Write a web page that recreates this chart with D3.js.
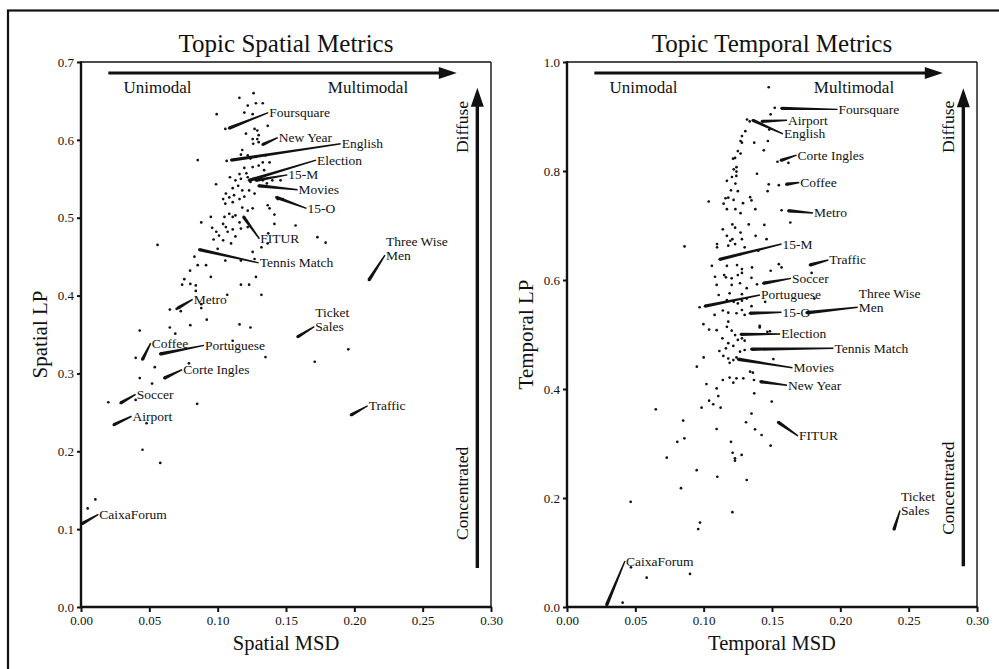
<!DOCTYPE html>
<html><head><meta charset="utf-8">
<script src="https://cdn.jsdelivr.net/npm/d3@7"></script>
<style>body{margin:0;background:#fff}svg{display:block}text{font-family:"Liberation Serif","Times New Roman",serif;fill:#111}</style>
</head><body><svg id="c" width="999" height="669"></svg>
<script>
// ---------- DATA ----------
const xTicks = [0, 0.05, 0.10, 0.15, 0.20, 0.25, 0.30];
const spatialYTicks = [0, 0.1, 0.2, 0.3, 0.4, 0.5, 0.6, 0.7];
const temporalYTicks = [0, 0.2, 0.4, 0.6, 0.8, 1.0];

// unlabeled topics: [MSD, LP]
const spatialPoints = [
[.1263,.660],[.1159,.654],[.122,.644],[.128,.647],[.133,.647],[.0993,.633],[.1195,.635],[.1256,.633],[.1366,.618],[.1056,.614],
[.1207,.608],[.127,.614],[.129,.612],[.1256,.601],[.129,.601],[.130,.606],[.126,.595],[.130,.597],[.0854,.574],[.1066,.573],
[.118,.587],[.117,.581],[.122,.580],[.124,.576],[.128,.578],[.135,.580],[.133,.571],[.138,.571],[.1195,.564],[.121,.557],
[.1256,.565],[.130,.567],[.134,.561],[.116,.556],[.117,.550],[.122,.552],[.124,.546],[.133,.548],[.136,.544],[.140,.548],
[.146,.548],[.109,.552],[.113,.548],[.0988,.543],[.115,.541],[.111,.538],[.118,.535],[.123,.535],[.127,.531],[.106,.531],
[.1085,.526],[.112,.529],[.104,.524],[.116,.524],[.1195,.527],[.1056,.518],[.111,.520],[.144,.524],[.1476,.524],[.1366,.516],
[.1415,.504],[.138,.512],[.118,.513],[.122,.509],[.1256,.512],[.1085,.505],[.111,.501],[.113,.503],[.105,.501],[.116,.494],
[.095,.501],[.088,.494],[.096,.487],[.099,.482],[.104,.492],[.106,.488],[.1073,.482],[.111,.485],[.101,.477],[.117,.486],
[.122,.488],[.113,.476],[.1098,.467],[.104,.471],[.097,.472],[.100,.460],[.1056,.445],[.117,.445],[.1256,.456],[.127,.447],
[.132,.462],[.1366,.467],[.137,.480],[.1415,.492],[.157,.490],[.056,.465],[.083,.450],[.0915,.439],[.0854,.439],[.0798,.432],
[.0756,.421],[.095,.424],[.074,.414],[.080,.415],[.084,.413],[.084,.406],[.128,.424],[.117,.414],[.123,.414],[.132,.401],
[.107,.401],[.065,.382],[.070,.383],[.073,.380],[.088,.389],[.088,.384],[.092,.369],[.065,.359],[.080,.362],[.069,.351],
[.116,.363],[.124,.359],[.043,.355],[.040,.320],[.079,.313],[.111,.342],[.135,.321],[.054,.308],[.043,.294],[.052,.287],
[.020,.263],[.040,.266],[.085,.261],[.048,.236],[.045,.202],[.058,.185],[.171,.315],[.1956,.331],[.173,.475],[.179,.468],
[.0049,.1266],[.0105,.1382]
];
const temporalPoints = [
[.1476,.9537],[.152,.916],[.149,.904],[.1317,.8945],[.1337,.891],[.148,.876],[.1305,.873],[.128,.864],[.127,.855],[.128,.852],
[.137,.852],[.147,.855],[.144,.838],[.125,.8366],[.123,.824],[.1215,.8226],[.127,.832],[.154,.817],[.162,.815],[.124,.807],
[.122,.803],[.124,.799],[.1239,.791],[.139,.795],[.1207,.789],[.117,.782],[.1232,.777],[.1476,.7756],[.1468,.763],[.155,.774],
[.120,.7646],[.125,.763],[.1037,.744],[.116,.75],[.118,.751],[.1219,.747],[.1146,.740],[.117,.730],[.1232,.730],[.127,.7226],
[.1288,.741],[.134,.752],[.135,.746],[.1378,.730],[.157,.728],[.1634,.7055],[.1444,.701],[.133,.702],[.121,.702],[.123,.696],
[.127,.687],[.114,.693],[.117,.681],[.1195,.672],[.121,.675],[.128,.675],[.138,.681],[.146,.675],[.1098,.666],[.1098,.660],
[.118,.663],[.123,.666],[.130,.660],[.127,.6476],[.140,.6537],[.086,.6616],[.106,.626],[.117,.626],[.1244,.6274],[.128,.620],
[.1354,.623],[.149,.617],[.155,.629],[.157,.623],
[.1083,.606],[.115,.609],[.1163,.605],[.1205,.603],[.125,.609],[.128,.613],[.135,.604],[.139,.592],[.1095,.591],[.1205,.591],
[.1266,.594],[.1315,.585],[.119,.5755],[.128,.574],[.111,.5725],[.117,.563],[.122,.560],[.125,.557],[.128,.562],[.1315,.566],
[.097,.550],[.108,.536],[.114,.544],[.118,.540],[.124,.539],[.128,.545],[.130,.536],[.135,.552],[.141,.516],[.1466,.505],
[.1485,.506],[.141,.513],[.0998,.519],[.104,.509],[.1095,.508],[.118,.5235],[.117,.514],[.1205,.507],[.123,.499],[.125,.490],
[.128,.493],[.130,.4887],[.1137,.493],[.118,.484],[.1217,.479],[.1163,.4746],[.1266,.4685],[.130,.4716],[.1115,.4697],[.1144,.4606],
[.118,.456],[.1217,.453],[.119,.448],[.124,.458],[.100,.458],[.095,.441],[.151,.455],[.102,.409],[.1095,.401],[.114,.4165],
[.119,.421],[.1217,.4116],[.124,.4196],[.129,.4196],[.134,.4318],[.136,.430],[.137,.392],[.1107,.387],[.104,.3786],[.107,.372],
[.0985,.3657],[.1124,.3657],[.065,.3627],[.1498,.377],[.135,.355],[.131,.339],[.1095,.3266],[.1376,.326],[.1424,.3156],[.149,.296],
[.085,.342],[.0807,.303],[.0859,.3095],[.073,.274],[.120,.303],[.1212,.283],[.1229,.2728],[.1229,.2685],[.1278,.279],[.0949,.251],
[.110,.239],[.1315,.233],[.0834,.218],[.179,.613],[.181,.566],[.145,.560],[.1368,.4165],
[.0466,.193],[.0973,.155],[.096,.143],[.121,.174],[.0468,.0728],[.0583,.0538],[.090,.0606],[.0407,.0079]
];

// labeled topics
const spatialTopics = ["Foursquare","New Year","English","Election","15-M","Movies","15-O","FITUR","Tennis Match","Three Wise Men","Metro","Ticket Sales","Coffee","Portuguese","Corte Ingles","Traffic","Soccer","Airport","CaixaForum"];
const spatialMSD = [.1085,.133,.110,.123,.128,.130,.143,.119,.0866,.2107,.071,.1585,.045,.058,.061,.1976,.029,.024,.0007];
const spatialLP  = [.615,.594,.574,.548,.548,.541,.526,.501,.459,.420,.384,.347,.318,.325,.294,.2466,.262,.234,.107];
const spatialLabelAt = [[.137,.635],[.144,.603],[.190,.595],[.172,.574],[.151,.555],[.1585,.536],[.165,.512],[.1305,.473],[.130,.442],[.2224,.452],[.0817,.395],[.1707,.360],[.051,.339],[.090,.336],[.074,.305],[.2098,.2585],[.040,.273],[.037,.245],[.0127,.119]];

const temporalTopics = ["Foursquare","Airport","English","Corte Ingles","Coffee","Metro","15-M","Traffic","Soccer","Portuguese","Three Wise Men","15-O","Election","Tennis Match","Movies","New Year","FITUR","Ticket Sales","CaixaForum"];
const temporalMSD = [.157,.1427,.136,.1566,.1605,.162,.1117,.1778,.1437,.101,.1754,.1339,.1273,.135,.1253,.1417,.1546,.2393,.029];
const temporalLP  = [.915,.891,.893,.8195,.7756,.727,.638,.6275,.594,.552,.540,.539,.5003,.473,.4545,.4134,.339,.1426,.0037];
const temporalLabelAt = [[.198,.913],[.161,.893],[.158,.868],[.168,.829],[.170,.779],[.180,.723],[.157,.666],[.1912,.6367],[.1639,.603],[.1412,.5725],[.2127,.55],[.157,.5407],[.156,.501],[.195,.4747],[.165,.439],[.161,.407],[.169,.314],[.2437,.177],[.0424,.0844]];

// ---------- DRAW ----------
const svg = d3.select("#c");
svg.append("rect").attr("x",8).attr("y",10.5).attr("width",1200).attr("height",1000)
  .attr("fill","none").attr("stroke","#111").attr("stroke-width",2.2);

function panel(o){
  const x = d3.scaleLinear().domain([0,0.3]).range([o.x0,o.x1]);
  const y = d3.scaleLinear().domain([0,o.ymax]).range([607,62]);
  const g = svg.append("g");
  g.append("text").attr("x",(o.x0+o.x1)/2).attr("y",52).attr("text-anchor","middle")
    .style("font-size","25px").text(o.title);
  g.append("line").attr("x1",x(0)).attr("x2",x(0.3)).attr("y1",y(o.ymax)).attr("y2",y(o.ymax)).attr("stroke","#111").attr("stroke-width",1.4);
  g.append("line").attr("x1",x(0.3)).attr("x2",x(0.3)).attr("y1",y(0)).attr("y2",y(o.ymax)).attr("stroke","#111").attr("stroke-width",1.4);
  const ax = g.append("g").attr("transform",`translate(0,${y(0)})`)
    .call(d3.axisBottom(x).tickValues(xTicks).tickFormat(d3.format(".2f")).tickSize(5).tickPadding(4).tickSizeOuter(0));
  const ay = g.append("g").attr("transform",`translate(${x(0)},0)`)
    .call(d3.axisLeft(y).tickValues(o.yTicks).tickFormat(d3.format(".1f")).tickSize(4).tickPadding(3).tickSizeOuter(0));
  [ax,ay].forEach(a=>{
    a.select(".domain").remove();
    a.selectAll(".tick line").attr("stroke","#111").attr("stroke-width",2);
    a.selectAll(".tick text").style("font-family",'"Liberation Serif",serif').style("font-size","13px").attr("fill","#222");
  });
  g.append("line").attr("x1",x(0)).attr("x2",x(0.3)+0.7).attr("y1",y(0)).attr("y2",y(0)).attr("stroke","#111").attr("stroke-width",2.4);
  g.append("line").attr("x1",x(0)).attr("x2",x(0)).attr("y1",y(0)+1).attr("y2",y(o.ymax)-0.7).attr("stroke","#111").attr("stroke-width",2.4);
  g.append("text").attr("x",(o.x0+o.x1)/2).attr("y",650).attr("text-anchor","middle").style("font-size","20.5px").text(o.xlabel);
  g.append("text").attr("transform",`translate(${o.x0-34},${(607+62)/2}) rotate(-90)`).attr("text-anchor","middle")
    .style("font-size","21px").text(o.ylabel);
  const hy = y(o.hArrowY), hx0 = x(0.02), hx1 = x(0.275);
  g.append("line").attr("x1",hx0).attr("x2",hx1-14).attr("y1",hy).attr("y2",hy).attr("stroke","#111").attr("stroke-width",3);
  g.append("path").attr("d",`M${hx1},${hy} L${hx1-18},${hy-6} L${hx1-18},${hy+6} Z`).attr("fill","#111");
  g.append("text").attr("x",x(0.056)).attr("y",y(o.modeY)).attr("text-anchor","middle").style("font-size","17px").text("Unimodal");
  g.append("text").attr("x",x(0.21)).attr("y",y(o.modeY)).attr("text-anchor","middle").style("font-size","17px").text("Multimodal");
  const vx = x(0.29), vy0 = y(o.vArrow[0]), vy1 = y(o.vArrow[1]);
  g.append("line").attr("x1",vx).attr("x2",vx).attr("y1",vy0).attr("y2",vy1+14).attr("stroke","#111").attr("stroke-width",3.4);
  g.append("path").attr("d",`M${vx},${vy1} L${vx-6.5},${vy1+19} L${vx+6.5},${vy1+19} Z`).attr("fill","#111");
  g.append("text").attr("transform",`translate(${vx-9},${y(o.diffuseY)}) rotate(-90)`).attr("text-anchor","middle").style("font-size","17.5px").text("Diffuse");
  g.append("text").attr("transform",`translate(${vx-9},${y(o.concY)}) rotate(-90)`).attr("text-anchor","middle").style("font-size","17.5px").text("Concentrated");
  g.selectAll("circle.p").data(o.points).join("circle").attr("class","p")
    .attr("cx",d=>x(d[0])).attr("cy",d=>y(d[1])).attr("r",1.35).attr("fill","#111");
  const lab = o.names.map((n,i)=>({n, px:x(o.mx[i]), py:y(o.my[i]), lx:x(o.la[i][0]), ly:y(o.la[i][1])}));
  g.selectAll("circle.q").data(lab).join("circle").attr("class","q")
    .attr("cx",d=>d.px).attr("cy",d=>d.py).attr("r",1.35).attr("fill","#111");
  g.selectAll("path.lead").data(lab).join("path").attr("class","lead").attr("fill","#111")
    .attr("d",d=>{
      const dx=d.lx-d.px, dy=d.ly-d.py, L=Math.hypot(dx,dy)||1;
      const nx=-dy/L, ny=dx/L, w0=1.7, w1=0.7;
      return `M${d.px+nx*w0},${d.py+ny*w0} L${d.lx+nx*w1},${d.ly+ny*w1} L${d.lx-nx*w1},${d.ly-ny*w1} L${d.px-nx*w0},${d.py-ny*w0} Z`;
    });
  lab.forEach(d=>{
    const parts = d.n==="Three Wise Men" ? ["Three Wise","Men"] : d.n==="Ticket Sales" ? ["Ticket","Sales"] : [d.n];
    parts.forEach((t,k)=>{
      g.append("text").attr("x",d.lx+1).attr("y",d.ly-(parts.length-1-k)*14).attr("dominant-baseline","central")
        .style("font-size","13.5px").text(t);
    });
  });
}

panel({x0:81,x1:491,ymax:0.7,yTicks:spatialYTicks,title:"Topic Spatial Metrics",xlabel:"Spatial MSD",ylabel:"Spatial LP",
  hArrowY:0.686, modeY:0.66, vArrow:[0.05,0.667], diffuseY:0.6165, concY:0.146,
  points:spatialPoints, names:spatialTopics, mx:spatialMSD, my:spatialLP, la:spatialLabelAt});
panel({x0:567,x1:977,ymax:1.0,yTicks:temporalYTicks,title:"Topic Temporal Metrics",xlabel:"Temporal MSD",ylabel:"Temporal LP",
  hArrowY:0.98, modeY:0.943, vArrow:[0.075,0.952], diffuseY:0.881, concY:0.218,
  points:temporalPoints, names:temporalTopics, mx:temporalMSD, my:temporalLP, la:temporalLabelAt});
</script></body></html>
